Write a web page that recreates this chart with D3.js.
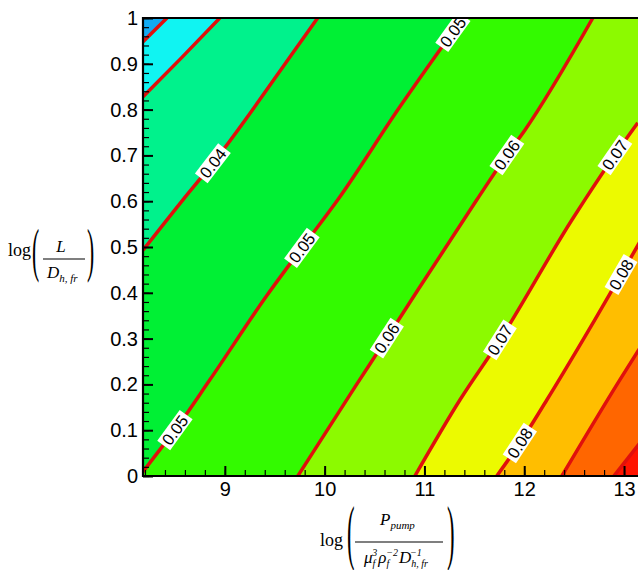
<!doctype html>
<html>
<head>
<meta charset="utf-8">
<script src="https://cdn.jsdelivr.net/npm/d3@7"></script>
<style>
  body { margin: 0; background: #fff; }
  svg { display: block; font-family: 'Liberation Sans', Arial, sans-serif; }
  .tick text { font-size: 20px; fill: #000; }
  .clabel text { font-size: 16.5px; fill: #000; }
  .math { font-family: 'Liberation Serif', 'Times New Roman', serif; fill: #000; }
</style>
</head>
<body>
<svg id="chart" width="638" height="570"></svg>
<script>
// contour levels and the lines (data coords)
const levels = [0.02, 0.03, 0.04, 0.05, 0.06, 0.07, 0.08, 0.09, 0.10]
const lineX = [
  [8.18, 8.42],
  [8.18, 8.57, 8.95],
  [8.18, 8.58, 8.88, 9.75, 9.93],
  [8.178, 8.369, 8.499, 8.850, 9.421, 9.772, 10.132, 10.754, 11.154, 11.385],
  [9.731, 10.303, 10.623, 10.934, 11.525, 11.826, 12.006, 12.687],
  [10.904, 11.355, 11.756, 12.477, 12.607, 12.908, 13.138],
  [11.725, 11.956, 12.226, 12.707, 13.008, 13.158],
  [12.377, 12.958, 13.158],
  [12.898, 13.158]
]
const lineY = [
  [0.948, 1.0],
  [0.828, 0.914, 1.0],
  [0.493, 0.603, 0.683, 0.945, 1.0],
  [0.009, 0.063, 0.100, 0.210, 0.394, 0.498, 0.603, 0.806, 0.930, 1.0],
  [0.0, 0.194, 0.301, 0.406, 0.603, 0.701, 0.755, 1.0],
  [0.0, 0.166, 0.297, 0.559, 0.603, 0.701, 0.771],
  [0.0, 0.072, 0.166, 0.341, 0.454, 0.511],
  [0.0, 0.210, 0.279],
  [0.0, 0.072]
]
// band colours, lowest band first
const bandColors = ["#12aaf2", "#10f4f2", "#00f28c", "#00f034", "#33fa00",
                    "#8cfa00", "#ecfa00", "#ffbe00", "#ff6600", "#ff1400"]

// in-line labels: which level, at what x
const labelLevel = [0.04, 0.05, 0.05, 0.05, 0.06, 0.06, 0.07, 0.07, 0.08, 0.08]
const labelX = [8.88, 8.50, 9.772, 11.285, 10.623, 11.826, 11.756, 12.908, 11.956, 12.97]

const xTicks = [9, 10, 11, 12, 13]
const yTicks = [0, 0.1, 0.2, 0.3, 0.4, 0.5, 0.6, 0.7, 0.8, 0.9, 1]

const xMin = 8.18, xMax = 13.2
const plotLeft = 143, plotTop = 18, plotBottom = 476
const xScale = d3.scaleLinear().domain([xMin, xMax]).range([plotLeft, plotLeft + (xMax - xMin) * 99.8])
const yScale = d3.scaleLinear().domain([0, 1]).range([plotBottom, plotTop])
const plotRight = xScale(xMax)

const svg = d3.select("#chart")

svg.append("clipPath").attr("id", "plot-clip")
  .append("rect")
    .attr("x", plotLeft).attr("y", plotTop)
    .attr("width", plotRight - plotLeft).attr("height", plotBottom - plotTop)

const plot = svg.append("g").attr("clip-path", "url(#plot-clip)")

plot.append("rect")
  .attr("x", plotLeft).attr("y", plotTop)
  .attr("width", plotRight - plotLeft).attr("height", plotBottom - plotTop)
  .attr("fill", bandColors[0])

const lineGen = d3.line()
  .x(d => xScale(d[0]))
  .y(d => yScale(d[1]))
  .curve(d3.curveMonotoneX)

const lines = levels.map((lv, i) => lineX[i].map((x, j) => [x, lineY[i][j]]))

// fill everything to the lower right of each contour with the next band colour
lines.forEach((pts, i) => {
  const last = pts[pts.length - 1]
  const path = lineGen(pts) +
    "L" + (plotRight + 60) + "," + yScale(last[1]) +
    "L" + (plotRight + 60) + "," + (plotBottom + 60) +
    "L" + (plotLeft - 10) + "," + (plotBottom + 60) + "Z"
  plot.append("path").attr("d", path).attr("fill", bandColors[i + 1])
})

plot.selectAll(".cline")
  .data(lines)
  .enter().append("path")
    .attr("class", "cline")
    .attr("d", lineGen)
    .attr("fill", "none")
    .attr("stroke", "#e0100c")
    .attr("stroke-width", 3.5)

function interp(xs, ys, x) {
  for (let i = 0; i < xs.length - 1; i++) {
    if (x >= xs[i] && x <= xs[i + 1]) {
      const t = (x - xs[i]) / (xs[i + 1] - xs[i])
      return ys[i] + t * (ys[i + 1] - ys[i])
    }
  }
  return ys[ys.length - 1]
}

labelLevel.forEach((lv, k) => {
  const i = levels.indexOf(lv)
  const x = labelX[k]
  const y = interp(lineX[i], lineY[i], x)
  const xa = xScale(x - 0.08), ya = yScale(interp(lineX[i], lineY[i], x - 0.08))
  const xb = xScale(x + 0.08), yb = yScale(interp(lineX[i], lineY[i], x + 0.08))
  const ang = Math.atan2(yb - ya, xb - xa) * 180 / Math.PI
  const g = plot.append("g")
    .attr("class", "clabel")
    .attr("transform", "translate(" + xScale(x) + "," + yScale(y) + ") rotate(" + ang + ")")
  const rect = g.append("rect").attr("fill", "#fff")
  const t = g.append("text")
    .attr("text-anchor", "middle")
    .attr("dy", "0.36em")
    .text(lv.toFixed(2))
  const w = t.node().getComputedTextLength() + 6
  rect.attr("x", -w / 2).attr("y", -8).attr("width", w).attr("height", 16)
})

// axes, ticks drawn inward
const xAxis = d3.axisBottom(xScale).tickValues(xTicks).tickSize(-10).tickPadding(6).tickFormat(d3.format("d"))
const xMinor = d3.axisBottom(xScale).tickValues(d3.range(8.2, 13.21, 0.2)).tickSize(-6).tickFormat("")
const yAxis = d3.axisLeft(yScale).tickValues(yTicks).tickSize(-10).tickPadding(5).tickFormat(d => d === 0 || d === 1 ? d : d.toFixed(1))
const yMinor = d3.axisLeft(yScale).tickValues(d3.range(0, 1.001, 0.02)).tickSize(-6).tickFormat("")

function styleAxis(g, w) {
  g.select(".domain").remove()
  g.selectAll(".tick line").attr("stroke", "#000").attr("stroke-width", w)
}

svg.append("g").attr("transform", "translate(0," + plotBottom + ")").call(xMinor).call(g => styleAxis(g, 1.2))
svg.append("g").attr("transform", "translate(0," + plotBottom + ")").call(xAxis).call(g => styleAxis(g, 2))
svg.append("g").attr("transform", "translate(" + plotLeft + ",0)").call(yMinor).call(g => styleAxis(g, 1.2))
svg.append("g").attr("transform", "translate(" + plotLeft + ",0)").call(yAxis).call(g => styleAxis(g, 2))
svg.selectAll(".tick text").attr("font-family", "'Liberation Sans', Arial, sans-serif")

// frame
svg.append("path")
  .attr("d", "M" + (plotRight + 5) + "," + plotTop + "H" + plotLeft + "V" + plotBottom + "H" + (plotRight + 5))
  .attr("fill", "none").attr("stroke", "#000").attr("stroke-width", 2.2)

// y axis title: log( L / D_h,fr )
const yt = svg.append("g").attr("class", "math")
yt.append("text").attr("x", 8).attr("y", 256).attr("font-size", 18).text("log")
yt.append("text").attr("transform", "translate(32,270) scale(0.36,1)").attr("font-size", 60).text("(")
yt.append("text").attr("x", 61).attr("y", 252).attr("font-size", 17).attr("font-style", "italic").attr("text-anchor", "middle").text("L")
yt.append("line").attr("x1", 43).attr("x2", 85).attr("y1", 259).attr("y2", 259).attr("stroke", "#000").attr("stroke-width", 1.1)
const yd = yt.append("text").attr("x", 47).attr("y", 278).attr("font-size", 17).attr("font-style", "italic")
yd.append("tspan").text("D")
yd.append("tspan").attr("font-size", 11).attr("dy", 4).text("h, fr")
yt.append("text").attr("transform", "translate(87,270) scale(0.36,1)").attr("font-size", 60).text(")")

// x axis title: log( P_pump / mu_f^3 rho_f^-2 D_h,fr^-1 )
const xt = svg.append("g").attr("class", "math")
xt.append("text").attr("x", 320).attr("y", 546).attr("font-size", 18).text("log")
xt.append("text").attr("transform", "translate(347,556) scale(0.32,1)").attr("font-size", 71).text("(")
const xn = xt.append("text").attr("x", 380).attr("y", 525).attr("font-size", 17).attr("font-style", "italic")
xn.append("tspan").text("P")
xn.append("tspan").attr("font-size", 11).attr("dy", 4).text("pump")
xt.append("line").attr("x1", 355).attr("x2", 443).attr("y1", 542).attr("y2", 542).attr("stroke", "#000").attr("stroke-width", 1.1)
const xd = xt.append("text").attr("x", 364).attr("y", 563).attr("font-size", 17).attr("font-style", "italic")
xd.append("tspan").text("μ")
xd.append("tspan").attr("font-size", 10).attr("dy", 4).text("f")
xd.append("tspan").attr("font-size", 10).attr("dx", -3).attr("dy", -11).text("3")
xd.append("tspan").attr("dx", 1).attr("dy", 7).text("ρ")
xd.append("tspan").attr("font-size", 10).attr("dy", 4).text("f")
xd.append("tspan").attr("font-size", 10).attr("dx", -3).attr("dy", -11).text("−2")
xd.append("tspan").attr("dx", 1).attr("dy", 7).text("D")
xd.append("tspan").attr("font-size", 10).attr("dy", 4).text("h, fr")
xd.append("tspan").attr("font-size", 10).attr("dx", -18).attr("dy", -11).text("−1")
xt.append("text").attr("transform", "translate(447,556) scale(0.32,1)").attr("font-size", 71).text(")")
</script>
</body>
</html>
